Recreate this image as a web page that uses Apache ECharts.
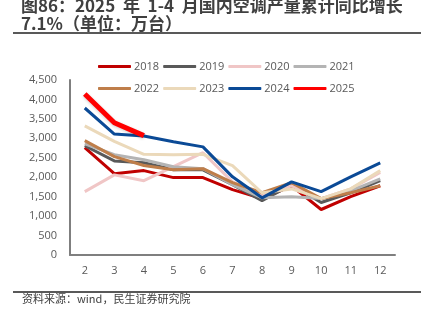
<!DOCTYPE html>
<html><head><meta charset="utf-8">
<script src="https://cdn.jsdelivr.net/npm/echarts@6/dist/echarts.min.js"></script>
<style>html,body{margin:0;padding:0;background:#fff}#c{width:428px;height:324px}</style>
</head><body><div id="c"></div>
<script>
const months = ['2','3','4','5','6','7','8','9','10','11','12'];
const yTicks = [0,500,1000,1500,2000,2500,3000,3500,4000,4500];
const s2018 = [2760,2090,2170,1990,1990,1680,1450,1780,1170,1500,1780];
const s2019 = [2810,2420,2370,2190,2190,1810,1400,1810,1350,1600,1910];
const s2020 = [1630,2060,1910,2270,2630,1880,1550,1780,1450,1700,2120];
const s2021 = [2860,2580,2450,2270,2220,1810,1470,1500,1450,1650,1960];
const s2022 = [2940,2530,2300,2190,2220,1860,1600,1860,1450,1600,1780];
const s2023 = [3320,2920,2590,2580,2590,2300,1600,1700,1450,1700,2170];
const s2024 = [3780,3110,3060,2910,2780,2010,1470,1880,1630,2010,2370];
const s2025 = [4140,3400,3070];
const names = ['2018','2019','2020','2021','2022','2023','2024','2025'];
const datas = [s2018,s2019,s2020,s2021,s2022,s2023,s2024,s2025];
const colors = ['#C00000','#595959','#F0C6C6','#B4B4B4','#BF7E4A','#EBD9BA','#0B4A96','#FF0000'];

const chart = echarts.init(document.getElementById('c'));
const series = names.map((n,i)=>({
  name:n, type:'line', data:datas[i], symbol:'none', smooth:false,
  lineStyle:{color:colors[i], width: i===7?5:3,
    shadowBlur: i===7?3:0, shadowColor:'rgba(0,0,0,0.2)', shadowOffsetY: i===7?1:0},
  itemStyle:{color:colors[i]}, z: 2+i
}));
const legendCommon = {icon:'roundRect', itemWidth:33, itemHeight:3, itemGap:4,
  textStyle:{fontSize:11, color:'#595959', fontFamily:'Open Sans', padding:[0,0,0,-2]}};
chart.setOption({
  animation:false,
  legend:[
    Object.assign({data:names.slice(0,4), left:93, top:56}, legendCommon),
    Object.assign({data:names.slice(4), left:93, top:78}, legendCommon)
  ],
  grid:{left:70, right:33, top:80, bottom:69},
  xAxis:{type:'category', data:months, boundaryGap:true,
    axisLine:{lineStyle:{color:'#7F7F7F', width:2}}, axisTick:{show:false},
    axisLabel:{color:'#595959', fontSize:11, margin:10, fontFamily:'Open Sans'}},
  yAxis:{type:'value', min:yTicks[0], max:yTicks[yTicks.length-1], interval:500,
    axisLine:{show:true, lineStyle:{color:'#7F7F7F', width:2}}, axisTick:{show:false},
    splitLine:{show:false},
    axisLabel:{color:'#595959', fontSize:11, margin:13, fontFamily:'Open Sans',
      formatter:v=>v.toLocaleString('en-US')}},
  graphic:[
    {type:'text', x:21, y:-3, style:{text:'图86：2025  年  1-4  月国内空调产量累计同比增长', fontSize:17, fontWeight:'bold', fill:'#404040', fontFamily:'Noto Sans CJK SC'}},
    {type:'text', x:21, y:15, style:{text:'7.1%（单位：万台）', fontSize:17, fontWeight:'bold', fill:'#404040', fontFamily:'Noto Sans CJK SC'}},
    {type:'line', shape:{x1:13,y1:33,x2:421,y2:33}, style:{stroke:'#595959', lineWidth:2}},
    {type:'line', shape:{x1:13,y1:292,x2:421,y2:292}, style:{stroke:'#595959', lineWidth:2}},
    {type:'text', x:22, y:293, style:{text:'资料来源：wind，民生证券研究院', fontSize:11, fill:'#404040', fontFamily:'Noto Sans CJK SC'}}
  ],
  series:series
});
</script></body></html>
